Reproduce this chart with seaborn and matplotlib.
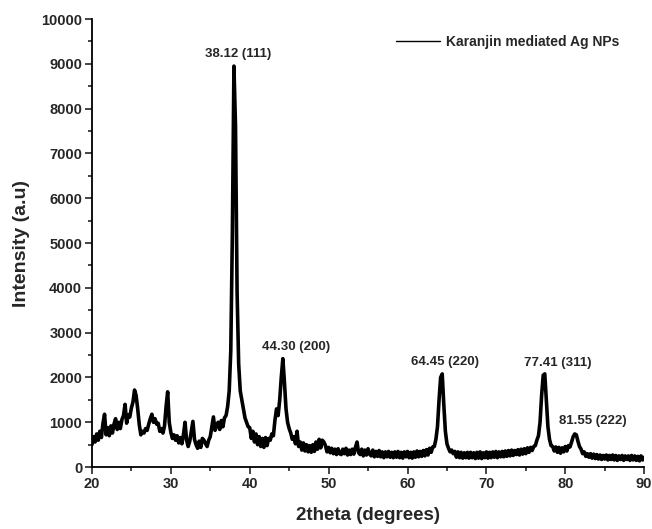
import numpy as np
import pandas as pd
import matplotlib
matplotlib.use("Agg")
import matplotlib.pyplot as plt
import seaborn as sns
from matplotlib.ticker import MultipleLocator

# scan: 20-90 deg, 0.2 deg step
SCAN_START = 20.0
SCAN_STEP = 0.2

intensity = [
  500, 680, 560, 740, 600, 800, 660, 980, 1180, 720,     # 20.0-21.8
  880, 700, 920, 760, 960, 1080, 840, 1000, 860, 1060,
  1150, 1400, 980, 1160, 1120, 1320, 1450, 1720, 1600, 1300,
  950, 720, 800, 760, 860, 820, 960, 1080, 1180, 1000,
  1080, 960, 980, 800, 860, 760, 920, 1350, 1680, 1000,
  780, 640, 720, 600, 700, 540, 660, 520, 720, 1000,     # 30
  600, 460, 580, 800, 1020, 620, 500, 420, 580, 440,
  640, 600, 520, 460, 600, 680, 900, 1120, 820, 940,
  1000, 840, 1040, 900, 1100, 1150, 1350, 1700, 2600, 5200,
  8950, 7600, 3900, 2300, 1700, 1500, 1300, 1100, 1000, 900,
  880, 640, 800, 560, 740, 500, 680, 460, 640, 440,      # 40
  660, 480, 640, 600, 740, 700, 1050, 1300, 1150, 1500,
  2000, 2420, 1900, 1300, 1000, 860, 760, 620, 680, 520,
  800, 460, 560, 380, 540, 360, 500, 340, 480, 330,
  500, 350, 560, 400, 620, 430, 600, 560, 480, 340,
  440, 320, 420, 300, 400, 280, 410, 300, 280, 400,      # 50
  300, 420, 270, 380, 280, 400, 290, 440, 560, 320,
  280, 400, 250, 380, 270, 410, 290, 250, 380, 230,
  350, 240, 370, 230, 340, 210, 340, 230, 350, 220,
  330, 210, 340, 220, 350, 210, 330, 200, 340, 230,
  350, 210, 330, 200, 340, 220, 360, 230, 350, 240,      # 60
  370, 250, 390, 270, 420, 330, 450, 460, 620, 900,
  1500, 2000, 2080, 1400, 800, 520, 420, 340, 380, 300,
  350, 220, 340, 210, 330, 200, 320, 210, 330, 200,
  330, 210, 320, 190, 330, 200, 340, 190, 320, 210,
  340, 200, 330, 210, 340, 220, 350, 210, 340, 230,      # 70
  350, 230, 360, 240, 370, 250, 380, 260, 370, 280,
  390, 270, 400, 290, 410, 300, 430, 330, 440, 370,
  460, 480, 600, 700, 1000, 1600, 2050, 2080, 1500, 900,
  620, 480, 460, 360, 450, 330, 440, 310, 430, 340,
  460, 360, 480, 450, 560, 680, 740, 720, 580, 460,      # 80
  400, 300, 340, 240, 300, 220, 300, 200, 290, 190,
  280, 180, 270, 170, 260, 180, 270, 160, 260, 170,
  270, 160, 260, 150, 250, 170, 260, 150, 250, 170,
  250, 150, 260, 160, 250, 150, 240, 140, 250, 160,
  220,                                                   # 90.0
]

peak_labels = ["38.12 (111)", "44.30 (200)", "64.45 (220)", "77.41 (311)", "81.55 (222)"]
label_x = [38.57, 45.86, 64.7, 79.0, 83.5]
label_y = [9220, 2670, 2355, 2330, 1030]

series_name = "Karanjin mediated Ag NPs"

two_theta = SCAN_START + SCAN_STEP * np.arange(len(intensity))
df = pd.DataFrame({"2theta": two_theta, "intensity": intensity})

sns.set_theme(style="ticks")
plt.rcParams["font.family"] = ["Liberation Sans", "DejaVu Sans"]
plt.rcParams["font.weight"] = "bold"

fig = plt.figure(figsize=(6.52, 5.29), dpi=100)
ax = fig.add_axes([0.141, 0.117, 0.847, 0.847])

sns.lineplot(data=df, x="2theta", y="intensity", color="black", lw=2.6,
             label=series_name, ax=ax)

for txt, lx, ly in zip(peak_labels, label_x, label_y):
  ax.text(lx, ly, txt, ha="center", va="center", fontsize=9.5, fontweight="bold")

ax.set_xlim(20, 90)
ax.set_ylim(0, 10000)
ax.xaxis.set_major_locator(MultipleLocator(10))
ax.xaxis.set_minor_locator(MultipleLocator(5))
ax.yaxis.set_major_locator(MultipleLocator(1000))
ax.yaxis.set_minor_locator(MultipleLocator(500))
ax.tick_params(which="major", length=5, width=1.2, direction="out", labelsize=10.5, pad=2)
ax.tick_params(which="minor", length=3, width=1.2, direction="out")
for lab in ax.get_xticklabels() + ax.get_yticklabels():
  lab.set_fontweight("bold")

ax.set_xlabel("2theta (degrees)", fontsize=13.5, fontweight="bold", labelpad=12)
ax.set_ylabel("Intensity (a.u)", fontsize=14, fontweight="bold", labelpad=8)

sns.despine(ax=ax)
for s in ["left", "bottom"]:
  ax.spines[s].set_linewidth(1.3)
  ax.spines[s].set_color("black")

ax.legend(loc="center right", bbox_to_anchor=(0.955, 0.949), frameon=False,
          handlelength=3.2, handletextpad=0.4, borderpad=0,
          borderaxespad=0, prop={"weight": "bold", "size": 10})
leg = ax.get_legend()
leg.get_lines()[0].set_linewidth(1.0)

fig.savefig("out.png", dpi=100)
